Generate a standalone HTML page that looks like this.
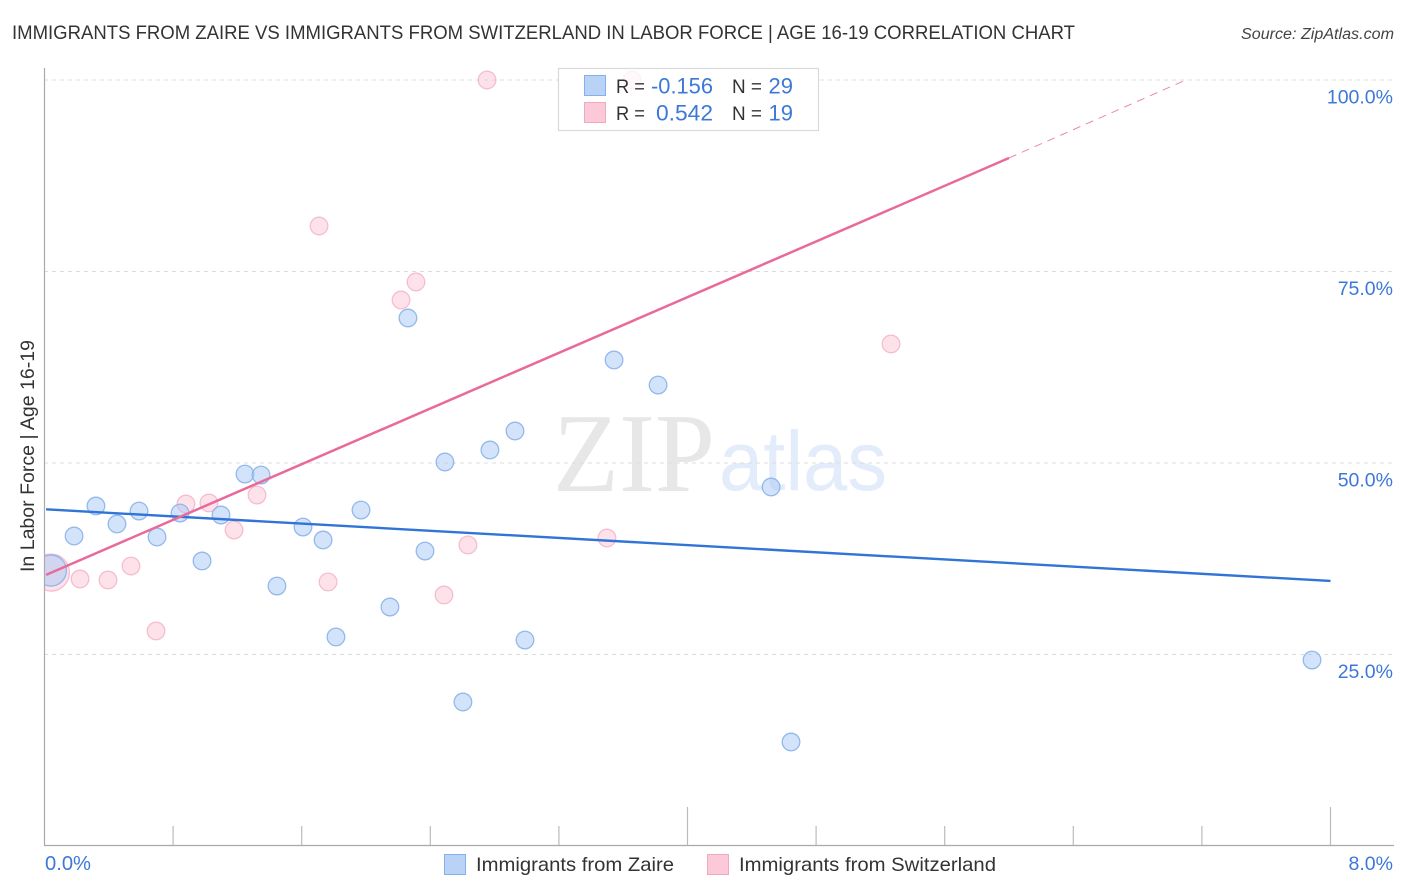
<!DOCTYPE html>
<html>
<head>
<meta charset="utf-8">
<style>
html,body{margin:0;padding:0;background:#fff;}
svg{display:block;font-family:"Liberation Sans",sans-serif;}
</style>
</head>
<body>
<svg id="chart" xmlns="http://www.w3.org/2000/svg" width="1406" height="892" viewBox="0 0 1406 892">
  <defs>
    <clipPath id="plot-clip"><rect x="45" y="60" width="1350" height="786"/></clipPath>
  </defs>
  <rect x="0" y="0" width="1406" height="892" fill="#fff"/>
  <text x="12" y="39" font-size="19.5" fill="#333" textLength="1063" lengthAdjust="spacingAndGlyphs">IMMIGRANTS FROM ZAIRE VS IMMIGRANTS FROM SWITZERLAND IN LABOR FORCE | AGE 16-19 CORRELATION CHART</text>
  <text x="1394" y="39" font-size="15.5" font-style="italic" fill="#444" text-anchor="end" textLength="153" lengthAdjust="spacingAndGlyphs">Source: ZipAtlas.com</text>
  <g id="watermark">
    <text x="553" y="491" font-family="'Liberation Serif',serif" font-size="112" fill="#e7e7e7" textLength="162" lengthAdjust="spacingAndGlyphs">ZIP</text>
    <text x="719" y="490" font-size="84" fill="#e3ecfa" textLength="168" lengthAdjust="spacingAndGlyphs">atlas</text>
  </g>
  <g id="grid"></g>
  <g id="axes"></g>
  <g id="points" clip-path="url(#plot-clip)"></g>
  <g id="lines"></g>
  <text transform="translate(34,456) rotate(-90)" font-size="19" fill="#333" text-anchor="middle" textLength="232" lengthAdjust="spacingAndGlyphs">In Labor Force | Age 16-19</text>
  <g>
    <rect x="558.5" y="68.5" width="260" height="62" fill="#fff" fill-opacity="0.8" stroke="#d9d9d9" stroke-width="1.2"/>
    <rect x="584.5" y="75.5" width="21" height="20" fill="#b8d3f6" stroke="#86b0ea"/>
    <rect x="584.5" y="102.5" width="21" height="20" fill="#fcc9d9" stroke="#f2a9c0"/>
    <text x="616" y="93" font-size="19" fill="#333" textLength="29" lengthAdjust="spacingAndGlyphs">R =</text>
    <text x="713" y="93.5" font-size="22" fill="#3d78d8" text-anchor="end" textLength="62" lengthAdjust="spacingAndGlyphs">-0.156</text>
    <text x="732" y="93" font-size="19" fill="#333" textLength="30" lengthAdjust="spacingAndGlyphs">N =</text>
    <text x="793" y="93.5" font-size="22" fill="#3d78d8" text-anchor="end">29</text>
    <text x="616" y="120" font-size="19" fill="#333" textLength="29" lengthAdjust="spacingAndGlyphs">R =</text>
    <text x="713" y="120.5" font-size="22" fill="#3d78d8" text-anchor="end" textLength="57" lengthAdjust="spacingAndGlyphs">0.542</text>
    <text x="732" y="120" font-size="19" fill="#333" textLength="30" lengthAdjust="spacingAndGlyphs">N =</text>
    <text x="793" y="120.5" font-size="22" fill="#3d78d8" text-anchor="end">19</text>
  </g>
  <g>
    <g>
      <rect x="444.5" y="854.5" width="21" height="20" fill="#b8d3f6" stroke="#86b0ea"/>
      <text x="476" y="871" font-size="19.5" fill="#333" textLength="198" lengthAdjust="spacingAndGlyphs">Immigrants from Zaire</text>
    </g>
    <g>
      <rect x="707.5" y="854.5" width="21" height="20" fill="#fcc9d9" stroke="#f2a9c0"/>
      <text x="739" y="871" font-size="19.5" fill="#333" textLength="257" lengthAdjust="spacingAndGlyphs">Immigrants from Switzerland</text>
    </g>
  </g>
</svg>
<script>
const yTicks = [25, 50, 75, 100];
const yTickLabels = ["25.0%", "50.0%", "75.0%", "100.0%"];
const xTicks = [0, 0.8, 1.6, 2.4, 3.2, 4, 4.8, 5.6, 6.4, 7.2, 8];
const xEndLabels = ["0.0%", "8.0%"];
const zaireX = [0.04,0.184,0.32,0.451,0.588,0.70,0.843,0.98,1.098,1.247,1.347,1.446,1.608,1.733,1.813,1.969,2.149,2.261,2.367,2.491,2.603,2.771,2.927,2.989,3.543,3.817,4.52,4.644,7.885];
const zaireY = [35.96,40.47,44.39,42.04,43.73,40.34,43.47,37.21,43.21,48.56,48.43,33.94,41.64,39.95,27.29,43.86,31.2,68.93,38.51,50.13,18.8,51.7,54.18,26.89,63.45,60.18,46.87,13.58,24.28];
const switzerlandX = [0.04,0.221,0.395,0.538,0.694,0.88,1.023,1.179,1.322,1.708,1.764,2.218,2.311,2.485,2.634,2.753,3.499,3.655,5.266];
const switzerlandY = [35.7,34.86,34.73,36.55,28.07,44.65,44.78,41.25,45.82,80.94,34.47,71.28,73.63,32.77,39.3,100,40.21,100,65.54];
const zaireTrendX = [0.01, 8];
const zaireTrendY = [43.95, 34.6];
const switzerlandTrendX = [0.01, 6];
const switzerlandTrendY = [35.4, 89.82];
const switzerlandDashX = [6, 7.1];
const switzerlandDashY = [89.82, 100];

const NS = 'http://www.w3.org/2000/svg';
const sx = v => 44.5 + v * 160.75;
const sy = v => 80 + (100 - v) * 7.66;
function make(parent, tag, attrs) {
  const el = document.createElementNS(NS, tag);
  for (const k in attrs) el.setAttribute(k, attrs[k]);
  document.getElementById(parent).appendChild(el);
  return el;
}

yTicks.forEach((t, i) => {
  const line = make('grid', 'line', {x1: 44, x2: 1394, y1: sy(t), y2: sy(t), stroke: '#dcdcdc', 'stroke-width': 1, 'stroke-dasharray': '4 4'});
  
  
  const label = make('axes', 'text', {x: 1393, y: sy(t) + 23.5, 'font-size': 19.5, fill: '#3d78d8', 'text-anchor': 'end'});
  label.textContent = yTickLabels[i];
  
  
});

const yAxis = make('axes', 'line', {x1: 44.5, x2: 44.5, y1: 68, y2: 846, stroke: '#aaa', 'stroke-width': 1.2});


const xAxis = make('axes', 'line', {x1: 44, x2: 1394, y1: 845.5, y2: 845.5, stroke: '#aaa', 'stroke-width': 1.2});



xTicks.forEach((t, i) => {
  if (i === 0) return;
  const tall = i === 5 || i === 10;
  const tick = make('axes', 'line', {x1: sx(t), x2: sx(t), y1: tall ? 807 : 826, y2: 845, stroke: '#bbb', 'stroke-width': 1.2});
  
  
});
const xLabelLeft = make('axes', 'text', {x: 45, y: 870, 'font-size': 20, fill: '#3d78d8', textLength: 46, lengthAdjust: 'spacingAndGlyphs'});
xLabelLeft.textContent = xEndLabels[0];


const xLabelRight = make('axes', 'text', {x: 1393, y: 870, 'font-size': 19.5, fill: '#3d78d8', 'text-anchor': 'end'});
xLabelRight.textContent = xEndLabels[1];



switzerlandX.forEach((v, i) => {
  const c = make('points', 'circle', {cx: sx(v), cy: sy(switzerlandY[i]), r: i === 0 ? 18.5 : 8.8, fill: '#fab9ce', 'fill-opacity': 0.42, stroke: '#f3b4ca', 'stroke-opacity': 0.85, 'stroke-width': 1.3});
  
  
});
zaireX.forEach((v, i) => {
  const c = make('points', 'circle', {cx: sx(v), cy: sy(zaireY[i]), r: i === 0 ? 15.5 : 8.8, fill: '#a5c8f5', 'fill-opacity': 0.5, stroke: '#8ab2ea', 'stroke-opacity': 0.9, 'stroke-width': 1.3});
  
  
});

const blueLine = make('lines', 'line', {x1: sx(zaireTrendX[0]), y1: sy(zaireTrendY[0]), x2: sx(zaireTrendX[1]), y2: sy(zaireTrendY[1]), stroke: '#2f74d6', 'stroke-width': 2.4});


const pinkLine = make('lines', 'line', {x1: sx(switzerlandTrendX[0]), y1: sy(switzerlandTrendY[0]), x2: sx(switzerlandTrendX[1]), y2: sy(switzerlandTrendY[1]), stroke: '#e96a9a', 'stroke-width': 2.5});


const pinkDash = make('lines', 'line', {x1: sx(switzerlandDashX[0]), y1: sy(switzerlandDashY[0]), x2: sx(switzerlandDashX[1]), y2: sy(switzerlandDashY[1]), stroke: '#ec86ab', 'stroke-width': 1, 'stroke-dasharray': '8 6'});


</script>
</body>
</html>
